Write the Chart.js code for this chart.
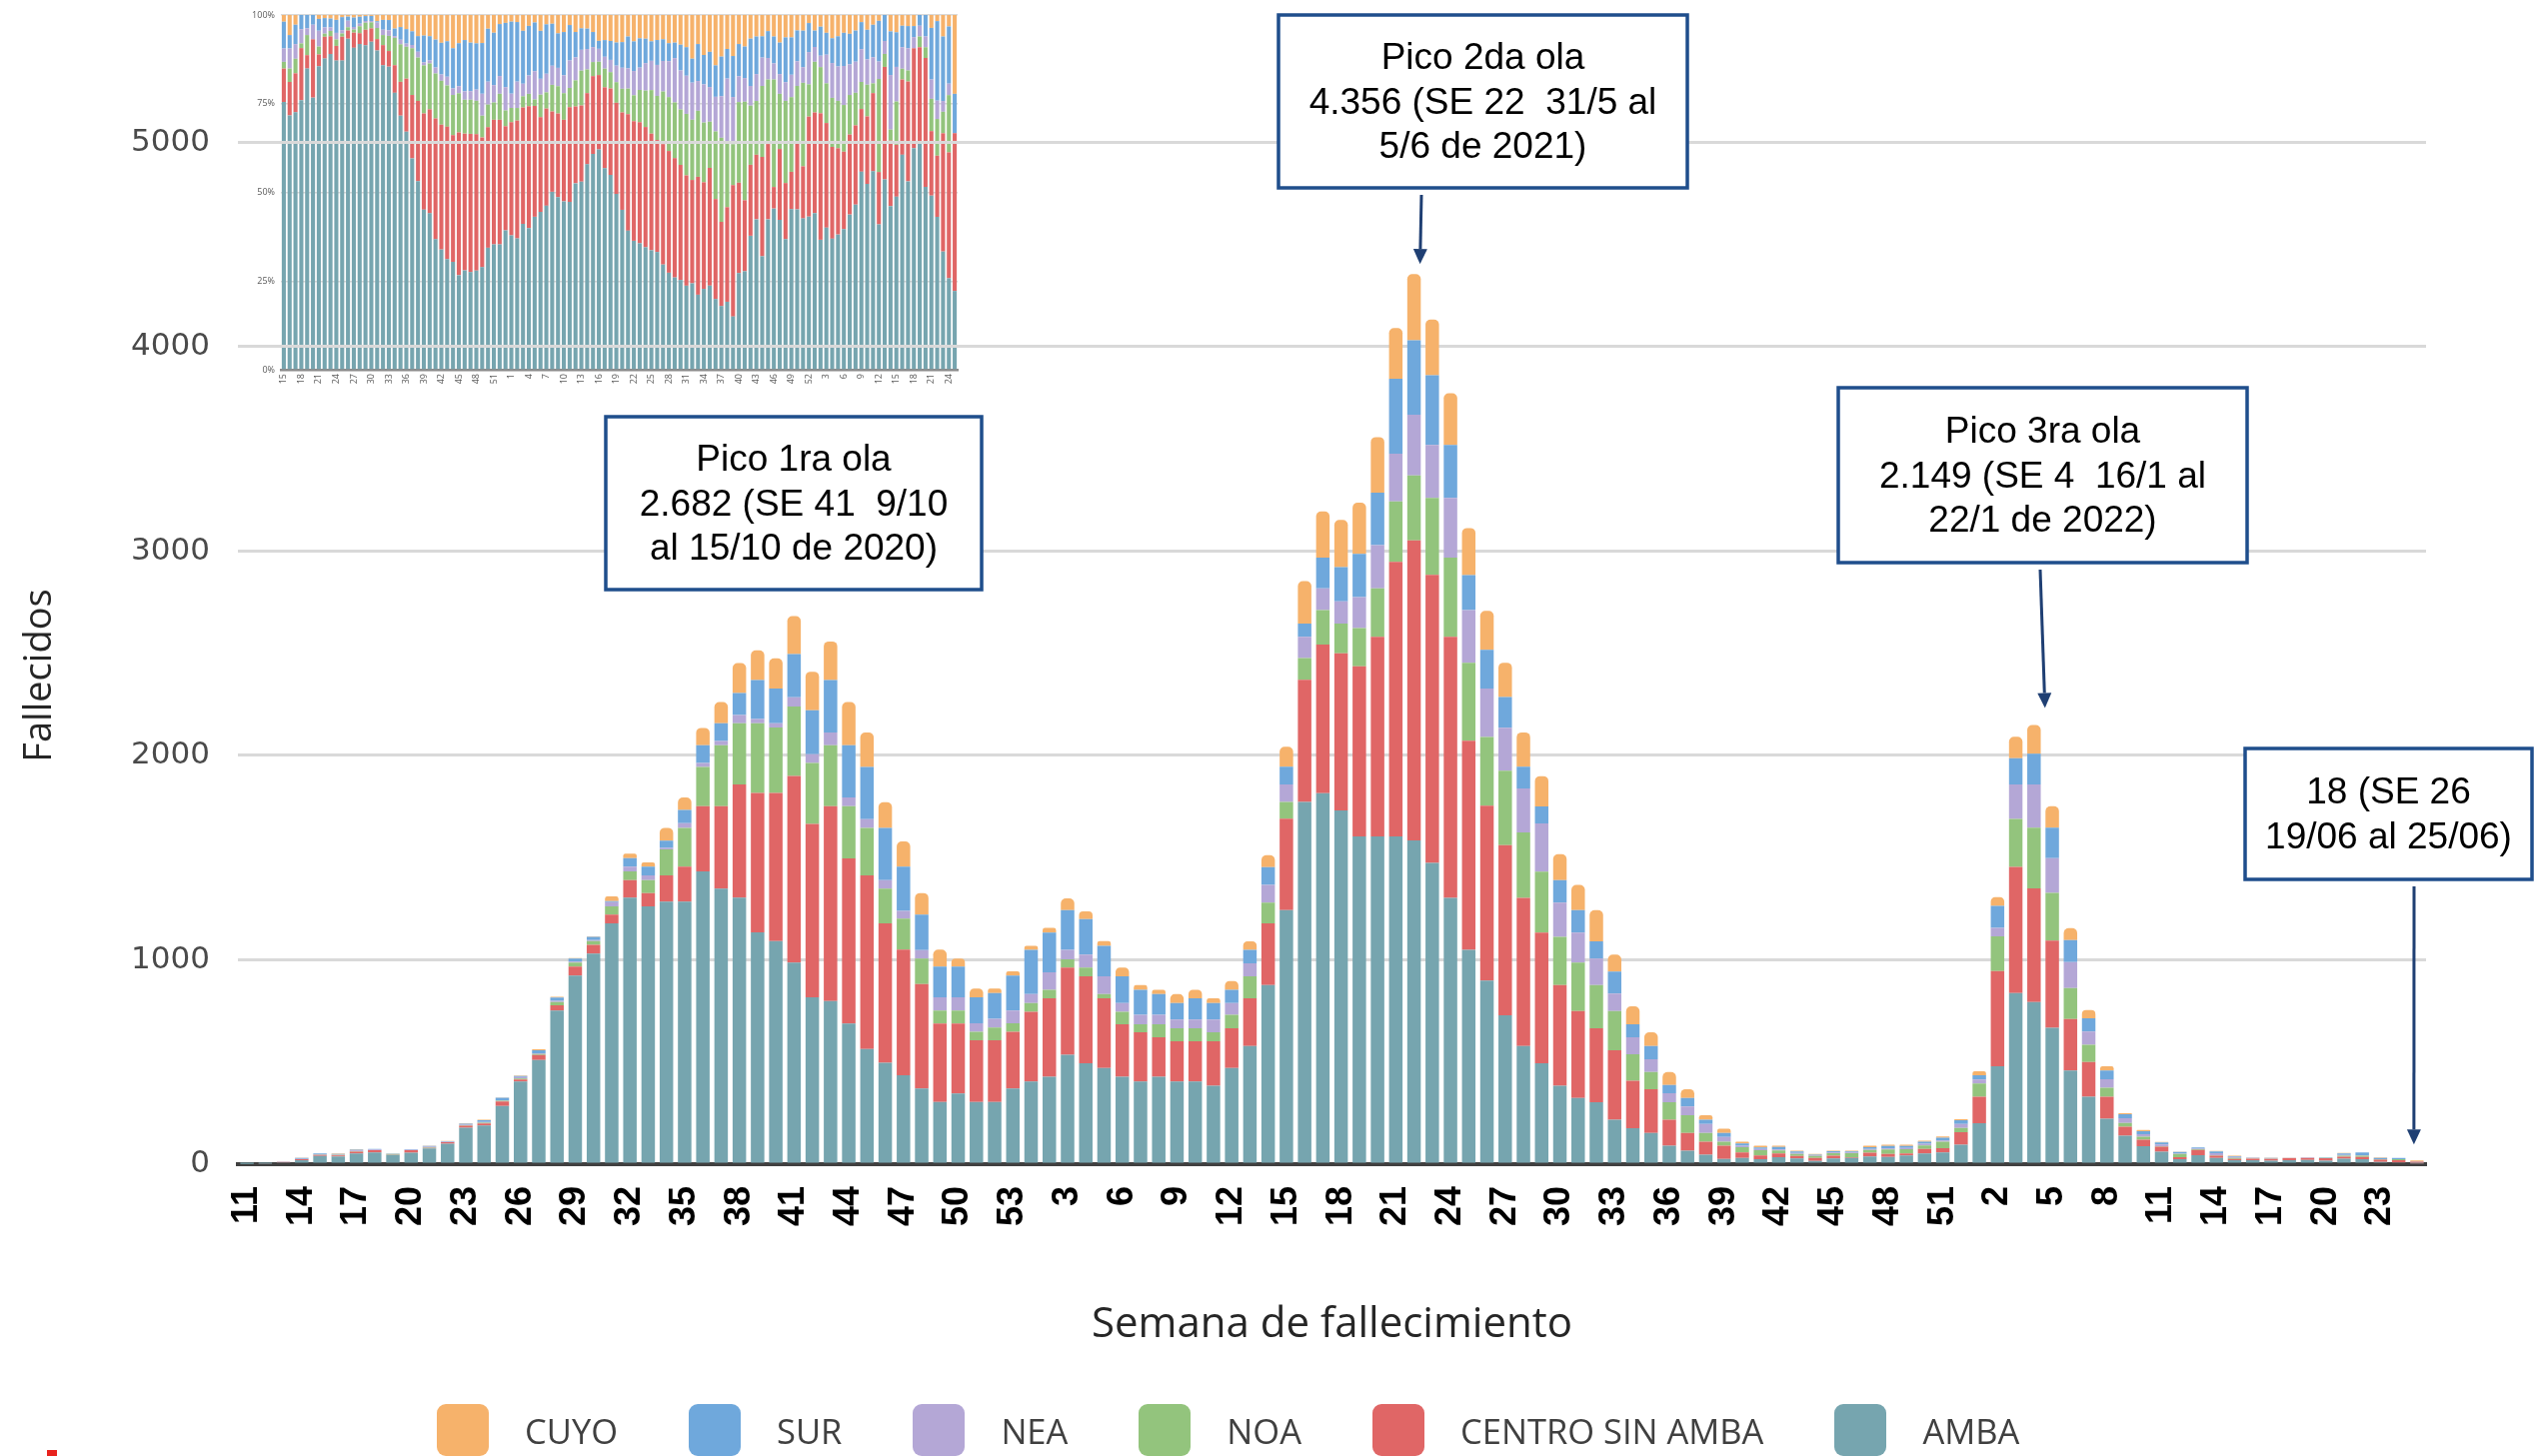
<!DOCTYPE html>
<html lang="es">
<head>
<meta charset="utf-8">
<title>Fallecidos por semana de fallecimiento y región</title>
<script src="https://cdn.jsdelivr.net/npm/chart.js@4.4.1/dist/chart.umd.min.js"></script>
<style>
  html, body { margin: 0; padding: 0; background: #fff; overflow: hidden; }
  .stage { position: relative; width: 2536px; height: 1457px; overflow: hidden; }
  .stage canvas { position: absolute; top: 0; }
  #insetChart { left: 230px; }
  #mainChart { left: 0; }
  .legend { position: absolute; left: 437px; top: 1405px; display: flex; align-items: center;
    font-family: 'Open Sans', sans-serif; font-size: 34.5px; color: #404040; }
  .legend__item { display: flex; align-items: center; margin-right: 71px; }
  .legend__box { width: 52px; height: 52px; border-radius: 9px; margin-right: 36px; }
  .mark { position: absolute; left: 47px; top: 1451px; width: 10px; height: 6px; background: #e8231e; }
</style>
</head>
<body>
<div class="stage">
  <canvas id="insetChart" width="740" height="400" style="width:740px;height:400px"></canvas>
  <canvas id="mainChart" width="2536" height="1457" style="width:2536px;height:1457px"></canvas>
  <div class="legend" id="legend"></div>
  <div class="mark"></div>
</div>
<script>
/**
 * Semanas epidemiológicas (categorías).
 */
const weeks2020 = [11, 12, 13, 14, 15, 16, 17, 18, 19, 20, 21, 22, 23, 24, 25, 26, 27, 28, 29, 30,
  31, 32, 33, 34, 35, 36, 37, 38, 39, 40, 41, 42, 43, 44, 45, 46, 47, 48, 49, 50, 51, 52, 53];
const weeks2021 = [1, 2, 3, 4, 5, 6, 7, 8, 9, 10, 11, 12, 13, 14, 15, 16, 17, 18, 19, 20,
  21, 22, 23, 24, 25, 26, 27, 28, 29, 30, 31, 32, 33, 34, 35, 36, 37, 38, 39, 40,
  41, 42, 43, 44, 45, 46, 47, 48, 49, 50, 51, 52];
const weeks2022 = [1, 2, 3, 4, 5, 6, 7, 8, 9, 10, 11, 12, 13, 14, 15, 16, 17, 18, 19, 20,
  21, 22, 23, 24, 25];
const weekLabels = [...weeks2020, ...weeks2021, ...weeks2022];

/**
 * Fallecidos por región (2020 SE 11-53 / 2021 / 2022 SE 1-25).
 */
const amba = [
  1, 3, 9, 20, 40, 38, 53, 57, 45, 56, 77, 100, 178, 190, 285, 405, 510, 752, 923, 1031,
  1179, 1304, 1262, 1285, 1285, 1433, 1348, 1304, 1135, 1092, 987, 817, 798, 688, 563, 496, 435, 371, 304, 346,
  304, 304, 371,
  405, 428, 535, 494, 471, 428, 405, 428, 405, 405, 384, 471, 578, 876, 1243, 1772, 1815, 1731, 1604, 1604,
  1604, 1584, 1474, 1303, 1049, 899, 728, 578, 494, 384, 324, 303, 217, 176, 153, 90, 66, 46, 26, 30,
  25, 34, 28, 16, 28, 30, 38, 35, 43, 52, 58, 95,
  201, 479, 838, 794, 668, 458, 330, 223, 139, 88, 61, 25, 44, 30, 20, 20, 17, 20, 21, 17,
  27, 25, 11, 8, 4,
];
const centroSinAmba = [
  0, 1, 2, 4, 5, 5, 8, 11, 2, 12, 3, 7, 10, 9, 22, 10, 24, 25, 44, 42,
  42, 86, 65, 128, 171, 319, 404, 554, 682, 725, 913, 848, 954, 808, 850, 683, 615, 510, 384, 342,
  302, 302, 277,
  341, 384, 427, 425, 341, 257, 240, 193, 196, 196, 217, 194, 234, 303, 448, 598, 728, 769, 832, 977,
  1344, 1468, 1410, 1278, 1023, 855, 833, 725, 639, 492, 425, 362, 341, 232, 214, 127, 87, 64, 64, 28,
  18, 18, 12, 14, 14, 4, 18, 15, 10, 22, 20, 62,
  129, 466, 617, 556, 426, 252, 170, 107, 44, 32, 24, 9, 26, 12, 6, 7, 9, 9, 9, 12,
  10, 10, 11, 11, 8,
];
const noa = [
  0, 0, 0, 1, 1, 2, 3, 1, 3, 0, 2, 1, 3, 4, 3, 4, 5, 16, 20, 19,
  41, 43, 63, 127, 190, 192, 298, 300, 341, 320, 340, 298, 298, 256, 233, 169, 152, 125, 64, 64,
  42, 63, 42,
  43, 41, 41, 43, 20, 61, 40, 64, 64, 64, 44, 66, 107, 101, 81, 107, 168, 145, 188, 237,
  295, 318, 376, 387, 382, 336, 364, 321, 298, 237, 237, 211, 191, 130, 84, 86, 87, 43, 20, 25,
  25, 15, 10, 10, 12, 20, 14, 22, 20, 18, 32, 20,
  65, 170, 234, 297, 234, 152, 84, 44, 19, 15, 3, 16, 3, 2, 5, 1, 1, 0, 1, 1,
  5, 6, 2, 5, 0,
];
const nea = [
  0, 0, 0, 1, 2, 3, 3, 3, 1, 3, 4, 2, 2, 4, 3, 8, 4, 6, 5, 4,
  20, 23, 23, 8, 23, 19, 21, 40, 21, 21, 45, 43, 63, 42, 42, 42, 38, 42, 65, 65,
  42, 43, 62,
  43, 86, 46, 64, 87, 43, 46, 46, 43, 43, 63, 58, 64, 87, 86, 104, 107, 109, 151, 211,
  234, 298, 260, 292, 257, 237, 211, 214, 237, 167, 147, 130, 86, 83, 63, 44, 43, 44, 23, 8,
  6, 5, 5, 4, 4, 3, 5, 5, 6, 8, 6, 20,
  19, 42, 169, 211, 170, 127, 65, 42, 23, 12, 8, 3, 3, 10, 4, 2, 2, 1, 1, 1,
  3, 3, 1, 1, 0,
];
const sur = [
  0, 0, 1, 5, 4, 2, 4, 3, 2, 2, 3, 3, 5, 8, 12, 5, 15, 16, 14, 16,
  5, 42, 43, 35, 64, 87, 87, 108, 190, 169, 211, 215, 256, 256, 256, 256, 216, 173, 150, 150,
  127, 126, 171,
  217, 194, 194, 173, 150, 130, 122, 101, 81, 104, 81, 64, 66, 87, 87, 64, 150, 168, 211, 257,
  367, 364, 341, 260, 171, 190, 150, 107, 83, 110, 110, 84, 107, 64, 64, 40, 41, 20, 20, 10,
  8, 12, 7, 3, 5, 5, 8, 12, 10, 10, 14, 18,
  21, 107, 129, 150, 149, 108, 65, 42, 19, 14, 10, 7, 6, 8, 4, 2, 2, 1, 1, 2,
  8, 13, 6, 5, 2,
];
const cuyo = [
  0, 0, 0, 1, 1, 3, 2, 0, 0, 0, 1, 1, 2, 3, 2, 2, 4, 4, 3, 3,
  23, 21, 21, 63, 61, 85, 104, 146, 146, 148, 186, 189, 189, 212, 168, 125, 123, 106, 83, 39,
  43, 22, 21,
  20, 23, 58, 38, 23, 43, 23, 21, 43, 41, 23, 43, 41, 58, 98, 208, 226, 231, 251, 272,
  248, 324, 272, 252, 231, 191, 168, 168, 148, 127, 124, 153, 84, 87, 67, 64, 43, 23, 20, 9,
  8, 6, 4, 3, 3, 4, 7, 6, 6, 5, 6, 5,
  20, 43, 105, 141, 105, 58, 40, 21, 5, 7, 3, 1, 0, 3, 2, 1, 1, 1, 0, 0,
  2, 1, 2, 1, 4,
];

const yTicks = [0, 1000, 2000, 3000, 4000, 5000];
const insetTicks = [0, 25, 50, 75, 100];
// the small 100% chart starts at SE 15 of 2020
const insetStart = 4;

const regions = [
  { label: 'AMBA', data: amba, color: '#76A5AF' },
  { label: 'CENTRO SIN AMBA', data: centroSinAmba, color: '#E06666' },
  { label: 'NOA', data: noa, color: '#93C47D' },
  { label: 'NEA', data: nea, color: '#B4A7D6' },
  { label: 'SUR', data: sur, color: '#6FA8DC' },
  { label: 'CUYO', data: cuyo, color: '#F6B26B' },
];

/**
 * Callout boxes (pixel boxes, arrows point to the bar of the given index).
 */
const callouts = [
  { lines: ['Pico 1ra ola', '2.682 (SE 41  9/10', 'al 15/10 de 2020)'], box: [606, 417, 376, 173] },
  { lines: ['Pico 2da ola', '4.356 (SE 22  31/5 al', '5/6 de 2021)'], box: [1279, 15, 409, 173],
    arrow: { index: 64, dx: 6, gap: 10, tailX: 1422 } },
  { lines: ['Pico 3ra ola', '2.149 (SE 4  16/1 al', '22/1 de 2022)'], box: [1839, 388, 409, 175],
    arrow: { index: 98, dx: 11, gap: 17, tailX: 2041 } },
  { lines: ['18 (SE 26', '19/06 al 25/06)'], box: [2246, 749, 287, 131],
    arrow: { index: 119, dx: -3, gap: 16, tailX: 2415 } },
];

Chart.defaults.font.family = "'Open Sans', sans-serif";

/**
 * Draw a straight arrow with a filled head.
 */
function drawArrow(ctx, x1, y1, x2, y2) {
  const a = Math.atan2(y2 - y1, x2 - x1);
  const head = 15;
  const half = 7;
  const bx = x2 - head * Math.cos(a);
  const by = y2 - head * Math.sin(a);
  ctx.beginPath();
  ctx.moveTo(x1, y1);
  ctx.lineTo(bx, by);
  ctx.stroke();
  ctx.beginPath();
  ctx.moveTo(x2, y2);
  ctx.lineTo(bx + half * Math.sin(a), by - half * Math.cos(a));
  ctx.lineTo(bx - half * Math.sin(a), by + half * Math.cos(a));
  ctx.closePath();
  ctx.fill();
}

const totals = weekLabels.map((_, i) => regions.reduce((sum, r) => sum + r.data[i], 0));

const overlayPlugin = {
  id: 'overlay',
  afterDraw(chart) {
    const { ctx } = chart;
    const x = chart.scales.x;
    const y = chart.scales.y;

    // y axis title
    ctx.save();
    ctx.translate(40, 676);
    ctx.rotate(-Math.PI / 2);
    ctx.font = "38px 'Open Sans', sans-serif";
    ctx.fillStyle = '#262626';
    ctx.textAlign = 'center';
    ctx.textBaseline = 'middle';
    ctx.fillText('Fallecidos', 0, 0);
    ctx.restore();

    // callouts
    callouts.forEach((c) => {
      const [bx, by, bw, bh] = c.box;
      ctx.save();
      ctx.fillStyle = '#ffffff';
      ctx.fillRect(bx, by, bw, bh);
      ctx.strokeStyle = '#1F4E8C';
      ctx.lineWidth = 3.5;
      ctx.strokeRect(bx, by, bw, bh);

      ctx.fillStyle = '#000000';
      ctx.font = "37px 'Liberation Sans', Arial, sans-serif";
      ctx.textAlign = 'center';
      ctx.textBaseline = 'middle';
      const step = 44.5;
      const first = by + bh / 2 + 2 - (step * (c.lines.length - 1)) / 2;
      c.lines.forEach((line, k) => ctx.fillText(line, bx + bw / 2, first + k * step));

      if (c.arrow) {
        const tipX = x.getPixelForValue(c.arrow.index) + c.arrow.dx;
        const tipY = y.getPixelForValue(totals[c.arrow.index]) - c.arrow.gap;
        ctx.strokeStyle = '#1F3F73';
        ctx.fillStyle = '#1F3F73';
        ctx.lineWidth = 3;
        drawArrow(ctx, c.arrow.tailX, by + bh + 7, tipX, tipY);
      }
      ctx.restore();
    });
  },
};

/**
 * Main stacked chart.
 */
new Chart(document.getElementById('mainChart'), {
  type: 'bar',
  data: {
    labels: weekLabels,
    datasets: regions.map((r) => ({
      label: r.label,
      data: r.data,
      backgroundColor: r.color,
      borderRadius: 5,
      barPercentage: 0.74,
      categoryPercentage: 1,
    })),
  },
  options: {
    responsive: false,
    animation: false,
    events: [],
    layout: { autoPadding: false, padding: { top: 0, right: 109, bottom: 0, left: 0 } },
    plugins: { legend: { display: false }, tooltip: { enabled: false } },
    scales: {
      x: {
        stacked: true,
        grid: { display: false, drawTicks: false },
        border: { display: true, color: '#404040', width: 4 },
        ticks: {
          autoSkip: false,
          minRotation: 90,
          maxRotation: 90,
          padding: 22,
          color: '#000000',
          font: { family: "'Liberation Sans Narrow', 'Liberation Sans', Arial, sans-serif", size: 36, weight: 'bold' },
          callback: (value, index) => (index % 3 === 0 ? String(weekLabels[index]) : ''),
        },
        title: {
          display: true,
          text: 'Semana de fallecimiento',
          color: '#262626',
          font: { size: 42 },
          padding: { top: 0, bottom: 106 },
        },
        afterFit: (scale) => { scale.height = 292; },
      },
      y: {
        stacked: true,
        min: 0,
        max: 5696,
        afterBuildTicks: (scale) => {
          scale.ticks = yTicks.map((v) => ({ value: v }));
        },
        grid: {
          drawTicks: true,
          tickLength: 28,
          tickColor: 'rgba(0,0,0,0)',
          lineWidth: 3,
          color: (c) => (c.tick && c.tick.value === 0 ? 'rgba(0,0,0,0)' : '#D9D9D9'),
        },
        border: { display: false },
        // tiny lineHeight keeps the top label from padding the plot area
        ticks: {
          padding: 0,
          color: '#4a4a4a',
          font: { family: "'DejaVu Sans', sans-serif", size: 31, lineHeight: 0.01 },
          callback: (v) => String(v),
        },
        afterFit: (scale) => { scale.width = 238; },
      },
    },
  },
  plugins: [overlayPlugin],
});

/**
 * Small 100% chart (share of each region).
 */
const insetLabels = weekLabels.slice(insetStart);
new Chart(document.getElementById('insetChart'), {
  type: 'bar',
  data: {
    labels: insetLabels,
    datasets: regions.map((r) => ({
      label: r.label,
      data: r.data.slice(insetStart).map((v, i) => (v / totals[i + insetStart]) * 100),
      backgroundColor: r.color,
      barPercentage: 0.7,
      categoryPercentage: 1,
    })),
  },
  options: {
    responsive: false,
    animation: false,
    events: [],
    layout: { autoPadding: false, padding: { top: 15, right: 12, bottom: 0, left: 0 } },
    plugins: { legend: { display: false }, tooltip: { enabled: false } },
    scales: {
      x: {
        stacked: true,
        grid: { display: false, drawTicks: false },
        border: { display: true, color: '#8C8C8C', width: 2.5 },
        ticks: {
          autoSkip: false,
          minRotation: 90,
          maxRotation: 90,
          padding: 4,
          color: '#595959',
          font: { size: 9 },
          callback: (value, index) => (index % 3 === 0 ? String(insetLabels[index]) : ''),
        },
        afterFit: (scale) => { scale.height = 30; },
      },
      y: {
        stacked: true,
        min: 0,
        max: 100,
        afterBuildTicks: (scale) => {
          scale.ticks = insetTicks.map((v) => ({ value: v }));
        },
        grid: { drawTicks: false, lineWidth: 1.5, color: '#D9D9D9' },
        border: { display: false },
        ticks: { padding: 6, color: '#595959', font: { size: 9 }, callback: (v) => `${v}%` },
        afterFit: (scale) => { scale.width = 51; },
      },
    },
  },
});

/**
 * Legend (CUYO first, AMBA last).
 */
const legend = document.getElementById('legend');
regions.slice().reverse().forEach((r) => {
  const item = document.createElement('div');
  item.className = 'legend__item';
  const box = document.createElement('span');
  box.className = 'legend__box';
  box.style.background = r.color;
  const text = document.createElement('span');
  text.textContent = r.label;
  item.appendChild(box);
  item.appendChild(text);
  legend.appendChild(item);
});
</script>
</body>
</html>
